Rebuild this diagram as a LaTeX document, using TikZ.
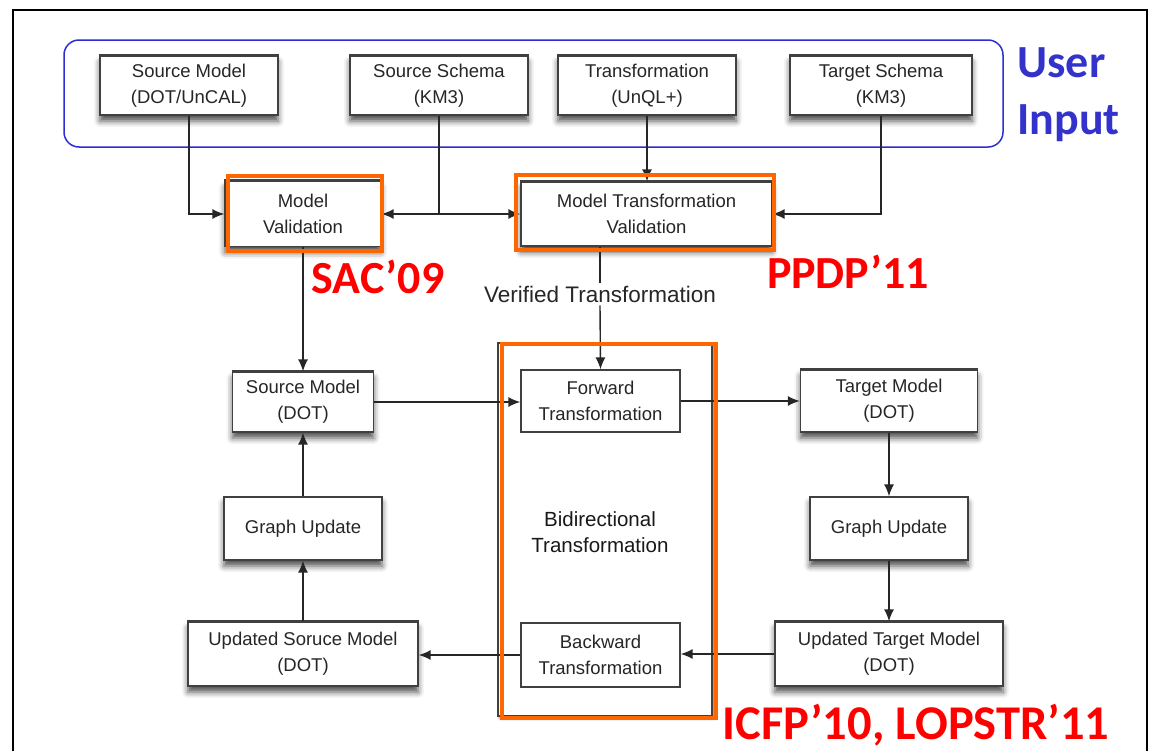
\documentclass[tikz,border=0pt]{standalone}
\usepackage{fontspec}
\newfontfamily\hvfont{Liberation Sans}
\newfontfamily\carfont{Carlito}
\usetikzlibrary{arrows.meta,shadows.blur}
\definecolor{orng}{RGB}{255,102,0}
\definecolor{ublue}{RGB}{51,51,204}
\definecolor{bblue}{RGB}{45,45,210}
\begin{document}
\begin{tikzpicture}[x=1pt,y=1pt,
  bx/.style={draw=black!75, line width=1.3pt, fill=white, inner sep=0pt, align=center,
    font=\hvfont\fontsize{18.5}{26}\selectfont, text=black!85,
    blur shadow={shadow xshift=0pt, shadow yshift=-6pt, shadow blur radius=6pt, shadow opacity=70}},
  pbx/.style={draw=black!75, line width=1.3pt, fill=white, inner sep=0pt, align=center,
    font=\hvfont\fontsize{18.5}{26}\selectfont, text=black!85},
  topln/.style={line width=3pt, black!75},
  arr/.style={-{Latex[length=12pt,width=10pt]}, line width=1.4pt, black!85},
  ln/.style={line width=1.4pt, black!85},
  org/.style={draw=orng, line width=4.5pt},
  red/.style={text=red, font=\carfont\bfseries\fontsize{46}{52}\selectfont},
]
\useasboundingbox (0,0) rectangle (1157,-750);
\draw[line width=2pt, black] (13,-10) rectangle (1147,-770);

% user input group
\draw[bblue, line width=1.5pt, rounded corners=15pt] (64,-40) rectangle (1003,-147);
\node[text=ublue, font=\carfont\bfseries\fontsize{46}{57}\selectfont, align=left, anchor=west] (ui) at (1014,-95) {User\\Input};

\node[bx, minimum width=178, minimum height=59] (sm) at (189,-85.5) {Source Model\\(DOT/UnCAL)};
\node[bx, minimum width=178, minimum height=59] (ss) at (439,-85.5) {Source Schema\\(KM3)};
\node[bx, minimum width=178, minimum height=59] (tr) at (647,-85.5) {Transformation\\(UnQL+)};
\node[bx, minimum width=182, minimum height=59] (ts) at (881,-85.5) {Target Schema\\(KM3)};

\node[bx, minimum width=156, minimum height=65] (mv) at (303,-214) {Model\\Validation};
\node[bx, minimum width=251, minimum height=64] (mtv) at (646.5,-214) {Model Transformation\\Validation};

% bidirectional box
\node[draw=black!75, line width=1.6pt, fill=white, minimum width=214, minimum height=373, inner sep=0pt,
  blur shadow={shadow xshift=2pt, shadow yshift=-2pt, shadow blur radius=3pt, shadow opacity=60}] (bd) at (605,-529.5) {};
\node[font=\hvfont\fontsize{20.5}{26}\selectfont, align=center, text=black!90] (bdt) at (600,-532) {Bidirectional\\Transformation};

\node[bx, minimum width=141, minimum height=60] (smd) at (303,-402) {Source Model\\(DOT)};
\node[pbx, minimum width=159, minimum height=62] (fw) at (600.5,-401) {Forward\\Transformation};
\node[bx, minimum width=177, minimum height=62] (tmd) at (889,-401) {Target Model\\(DOT)};
\node[bx, minimum width=158, minimum height=63] (gul) at (303,-528.5) {Graph Update};
\node[bx, minimum width=158, minimum height=63] (gur) at (889,-528.5) {Graph Update};
\node[bx, minimum width=230, minimum height=64] (usm) at (303,-654) {Updated Soruce Model\\(DOT)};
\node[pbx, minimum width=159, minimum height=64] (bw) at (600.5,-655) {Backward\\Transformation};
\node[bx, minimum width=228, minimum height=64] (utm) at (889,-654) {Updated Target Model\\(DOT)};

\foreach \n in {sm,ss,tr,ts,mv,mtv,smd,tmd,usm,utm}
  \draw[topln] (\n.north west) -- (\n.north east);

% connectors
\draw[arr] (sm.south) |- (mv.west);
\draw[arr] (ss.south) |- (mv.east);
\draw[arr] (ss.south) |- (mtv.west);
\draw[arr] (tr.south) -- (tr.south |- mtv.north);
\draw[arr] (ts.south) |- (mtv.east);
\draw[arr] (mv.south) -- (smd.north);

\node[font=\hvfont\fontsize{22.5}{26}\selectfont, text=black!85, inner sep=3pt] (vt) at (600,-294) {Verified Transformation};
\draw[ln] (mtv.south -| vt) -- (vt.north);
\draw[arr] (vt.south) -- (fw.north);

\draw[arr] (smd.east) -- (smd.east -| fw.west);
\draw[arr] (fw.east) -- (fw.east -| tmd.west);
\draw[arr] (tmd.south) -- (gur.north);
\draw[arr] (gur.south) -- (utm.north);
\draw[arr] (utm.west) -- (utm.west -| bw.east);
\draw[arr] (bw.west) -- (bw.west -| usm.east);
\draw[arr] (usm.north) -- (gul.south);
\draw[arr] (gul.north) -- (smd.south);

% orange highlights
\draw[org] (228,-176) rectangle (382,-251);
\draw[org] (516,-175) rectangle (774,-250);
\draw[org] (502,-344) rectangle (716,-718);

% red labels
\node[red] (sac) at (378,-277) {SAC’09};
\node[red] (ppdp) at (848,-272) {PPDP’11};
\node[red, font=\carfont\bfseries\fontsize{48.5}{52}\selectfont] (icfp) at (916,-725) {ICFP’10, LOPSTR’11};
\end{tikzpicture}
\end{document}
